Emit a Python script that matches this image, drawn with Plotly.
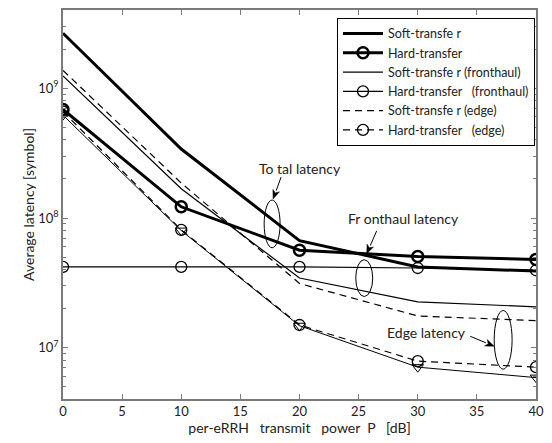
import plotly.graph_objects as go

# ---------------- data ----------------
power_db = [0, 10, 20, 30, 40]
soft_total = [2.65e9, 3.4e8, 6.7e7, 4.2e7, 3.9e7]
hard_total = [6.85e8, 1.22e8, 5.65e7, 5.05e7, 4.8e7]
soft_fronthaul = [1.24e9, 1.68e8, 3.45e7, 2.26e7, 2.07e7]
hard_fronthaul = [4.2e7, 4.2e7, 4.2e7, 4.12e7, 3.96e7]
soft_edge = [1.37e9, 1.86e8, 3.13e7, 1.76e7, 1.62e7]
hard_edge = [6.6e8, 8.1e7, 1.5e7, 7.9e6, 7.1e6]
extra_edge = [6.2e8, 8.0e7, 1.48e7, 7.1e6, 5.9e6]

x_ticks = [0, 5, 10, 15, 20, 25, 30, 35, 40]
y_major = [1e7, 1e8, 1e9]
y_major_text = ["10<sup>7</sup>", "10<sup>8</sup>", "10<sup>9</sup>"]
y_minor = [m * 10 ** e for e in range(6, 10) for m in range(2, 10)]

FONT = "Lato"
W, H = 552, 443
L, R, T, B = 63, 14, 8, 44
PW, PH = W - L - R, H - T - B


def px(xp):
    return (xp - L) / PW


def py(yp):
    return (H - B - yp) / PH


fig = go.Figure()
fig.add_trace(go.Scatter(x=power_db, y=soft_total, mode="lines", name="Soft-transfe r",
                         line=dict(color="black", width=3)))
fig.add_trace(go.Scatter(x=power_db, y=hard_total, mode="lines+markers", name="Hard-transfer",
                         line=dict(color="black", width=3),
                         marker=dict(symbol="circle-open", size=11, color="black", line=dict(width=2.5))))
fig.add_trace(go.Scatter(x=power_db, y=soft_fronthaul, mode="lines", name="Soft-transfe r (fronthaul)",
                         line=dict(color="black", width=1.2)))
fig.add_trace(go.Scatter(x=power_db, y=hard_fronthaul, mode="lines+markers",
                         name="Hard-transfer\u00a0\u00a0 (fronthaul)",
                         line=dict(color="black", width=1.2),
                         marker=dict(symbol="circle-open", size=11, color="black", line=dict(width=1.3))))
fig.add_trace(go.Scatter(x=power_db, y=soft_edge, mode="lines", name="Soft-transfe r (edge)",
                         line=dict(color="black", width=1.2, dash="7px,5px")))
fig.add_trace(go.Scatter(x=power_db, y=hard_edge, mode="lines+markers",
                         name="Hard-transfer\u00a0\u00a0 (edge)",
                         line=dict(color="black", width=1.2, dash="7px,5px"),
                         marker=dict(symbol="circle-open", size=11, color="black", line=dict(width=1.3))))
fig.add_trace(go.Scatter(x=power_db, y=extra_edge, mode="lines+markers", showlegend=False,
                         line=dict(color="black", width=1),
                         marker=dict(symbol="triangle-down-open", size=10, color="black", line=dict(width=1))))

axis_common = dict(showline=True, linecolor="#7a7a7a", linewidth=1.5, mirror="ticks",
                   ticks="inside", tickcolor="#7a7a7a", showgrid=False, zeroline=False,
                   tickfont=dict(family=FONT, size=13, color="#222"))

fig.update_xaxes(range=[0, 40], tickvals=x_ticks, ticklen=5,
                 title=dict(text="per-eRRH\u00a0\u00a0 transmit\u00a0\u00a0 power\u00a0 P\u00a0\u00a0 [dB]",
                            font=dict(family=FONT, size=14, color="#222"), standoff=5),
                 **axis_common)
fig.update_yaxes(type="log", range=[6.606, 9.602], tickvals=y_major, ticktext=y_major_text, ticklen=5,
                 minor=dict(tickmode="array", tickvals=y_minor, ticks="inside", ticklen=3, tickcolor="#7a7a7a"),
                 title=dict(text="Average latency [symbol]",
                            font=dict(family=FONT, size=14, color="#222"), standoff=0),
                 **axis_common)

# ellipses (pixel boxes converted to paper fractions)
ellipses = [(265, 199, 281, 247), (357, 259, 374, 296), (496, 310, 514, 369)]
for x0, y0, x1, y1 in ellipses:
    fig.add_shape(type="circle", xref="paper", yref="paper",
                  x0=px(x0), x1=px(x1), y0=py(y1), y1=py(y0),
                  line=dict(color="black", width=1))

# arrows drawn as shapes: (head_x, head_y, tail_x, tail_y) in pixels
arrows = [(274, 198, 282, 176), (368, 253, 378, 230), (496, 346, 472, 336)]
for hx, hy, tx, ty in arrows:
    dx, dy = hx - tx, hy - ty
    n = (dx * dx + dy * dy) ** 0.5
    ux, uy = dx / n, dy / n
    hl, hw = 9.0, 3.5
    bx, by = hx - ux * hl, hy - uy * hl
    lx, ly = bx - uy * hw, by + ux * hw
    rx, ry = bx + uy * hw, by - ux * hw
    fig.add_shape(type="line", xref="paper", yref="paper",
                  x0=px(tx), y0=py(ty), x1=px(bx), y1=py(by),
                  line=dict(color="black", width=1))
    path = (f"M {px(hx)},{py(hy)} L {px(lx)},{py(ly)} "
            f"L {px(bx + ux * 2.5)},{py(by + uy * 2.5)} L {px(rx)},{py(ry)} Z")
    fig.add_shape(type="path", xref="paper", yref="paper", path=path,
                  fillcolor="black", line=dict(color="black", width=0.5))

labels = [("To tal latency", 301, 167), ("Fr onthaul latency", 405, 218), ("Edge latency", 428, 332)]
for txt, cx, cy in labels:
    fig.add_annotation(x=px(cx), y=py(cy), xref="paper", yref="paper", text=txt, showarrow=False,
                       xanchor="center", yanchor="middle",
                       font=dict(family=FONT, size=14, color="#222"))

fig.update_layout(
    width=W, height=H, autosize=False,
    margin=dict(l=L, r=R, t=T, b=B),
    paper_bgcolor="white", plot_bgcolor="white",
    font=dict(family=FONT, size=13, color="#222"),
    legend=dict(x=px(537), y=py(16), xanchor="right", yanchor="top",
                bordercolor="black", borderwidth=1, bgcolor="white",
                font=dict(family=FONT, size=12.5, color="#222"),
                itemwidth=40, tracegroupgap=0),
)

fig.write_html("out.html", config={"displayModeBar": False},
               post_script="document.body.style.margin='0';")
